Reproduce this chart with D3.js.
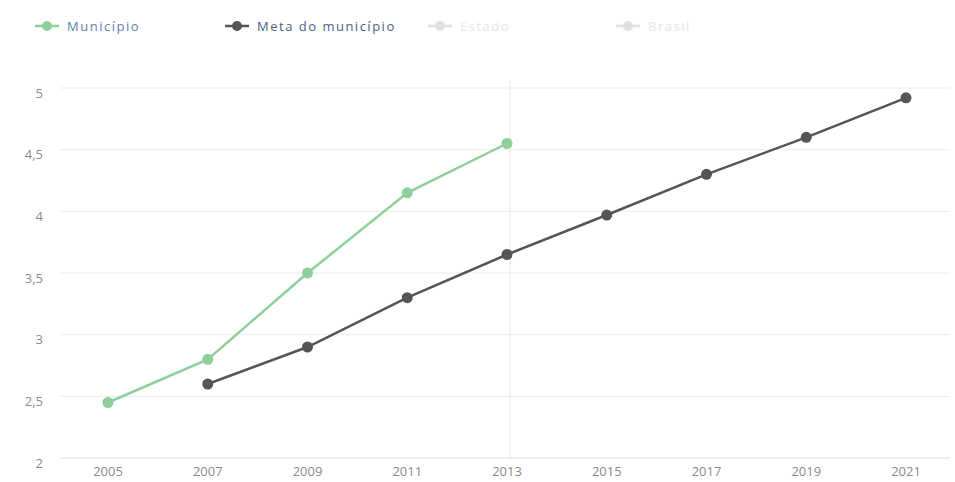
<!DOCTYPE html>
<html>
<head>
<meta charset="utf-8">
<script src="https://cdn.jsdelivr.net/npm/d3@7"></script>
<style>
  body { margin: 0; background: #fff; }
  svg { display: block; font-family: "Open Sans", sans-serif; }
</style>
</head>
<body>
<svg class="chart"></svg>
<script>
const width = 955, height = 482;

const years = [2005, 2007, 2009, 2011, 2013, 2015, 2017, 2019, 2021];
const yTicks = [2, 2.5, 3, 3.5, 4, 4.5, 5];
const municipioYears = [2005, 2007, 2009, 2011, 2013];
const municipio = [2.45, 2.8, 3.5, 4.15, 4.55];
const metaYears = [2007, 2009, 2011, 2013, 2015, 2017, 2019, 2021];
const meta = [2.6, 2.9, 3.3, 3.65, 3.97, 4.3, 4.6, 4.92];
const legendNames = ["Município", "Meta do município", "Estado", "Brasil"];

const green = "#8fcf9c", dark = "#555555";
const fmt = d3.formatLocale({decimal: ",", thousands: ".", grouping: [3], currency: ["R$", ""]}).format("~g");

const x = d3.scaleLinear().domain([2005, 2021]).range([108, 906]);
const y = d3.scaleLinear().domain([2, 5]).range([458, 88]);

const svg = d3.select(".chart")
  .attr("width", width)
  .attr("height", height);

// grid
svg.append("g")
  .selectAll("line")
  .data(yTicks)
  .enter().append("line")
    .attr("x1", 60).attr("x2", 950)
    .attr("y1", d => y(d)).attr("y2", d => y(d))
    .attr("stroke", d => d === 2 ? "#dedede" : "#ebebeb")
    .attr("stroke-width", 1);

// y labels
svg.append("g")
  .attr("font-size", 13)
  .attr("fill", "#8a8a8a")
  .attr("text-anchor", "end")
  .selectAll("text")
  .data(yTicks)
  .enter().append("text")
    .attr("x", 43)
    .attr("y", d => y(d) + 5)
    .attr("dy", "0.35em")
    .text(d => fmt(d));

// x labels
svg.append("g")
  .attr("font-size", 13)
  .attr("fill", "#8a8a8a")
  .attr("text-anchor", "middle")
  .selectAll("text")
  .data(years)
  .enter().append("text")
    .attr("x", d => x(d))
    .attr("y", 476)
    .text(d => d);

// crosshair at 2013
svg.append("line")
  .attr("x1", x(2013) + 3).attr("x2", x(2013) + 3)
  .attr("y1", 80).attr("y2", 460)
  .attr("stroke", "#e4e4e4");

const line = d3.line()
  .x(d => x(d[0]))
  .y(d => y(d[1]));

const series = [
  {color: green, data: d3.zip(municipioYears, municipio)},
  {color: dark, data: d3.zip(metaYears, meta)}
];

series.forEach(s => {
  svg.append("path")
    .datum(s.data)
    .attr("fill", "none")
    .attr("stroke", s.color)
    .attr("stroke-width", 2.5)
    .attr("d", line);

  svg.append("g")
    .selectAll("circle")
    .data(s.data)
    .enter().append("circle")
      .attr("cx", d => x(d[0]))
      .attr("cy", d => y(d[1]))
      .attr("r", 5.5)
      .attr("fill", s.color);
});

// legend
const legendX = [35, 225, 428, 616];
const legendColors = [green, dark, "#e0e0e0", "#e0e0e0"];
const legendText = ["#5a7fae", "#4a5f85", "#e6e6e6", "#e6e6e6"];
const legend = svg.append("g")
  .selectAll("g")
  .data(legendNames)
  .enter().append("g")
    .attr("transform", (d, i) => `translate(${legendX[i]},26)`);

legend.append("line")
  .attr("x1", 0).attr("x2", 24)
  .attr("stroke", (d, i) => legendColors[i])
  .attr("stroke-width", 2.5);
legend.append("circle")
  .attr("cx", 12).attr("r", 5)
  .attr("fill", (d, i) => legendColors[i]);
legend.append("text")
  .attr("x", 32)
  .attr("dy", "0.35em")
  .attr("font-size", 13)
  .attr("letter-spacing", 1.5)
  .attr("fill", (d, i) => legendText[i])
  .text(d => d);
</script>
</body>
</html>
